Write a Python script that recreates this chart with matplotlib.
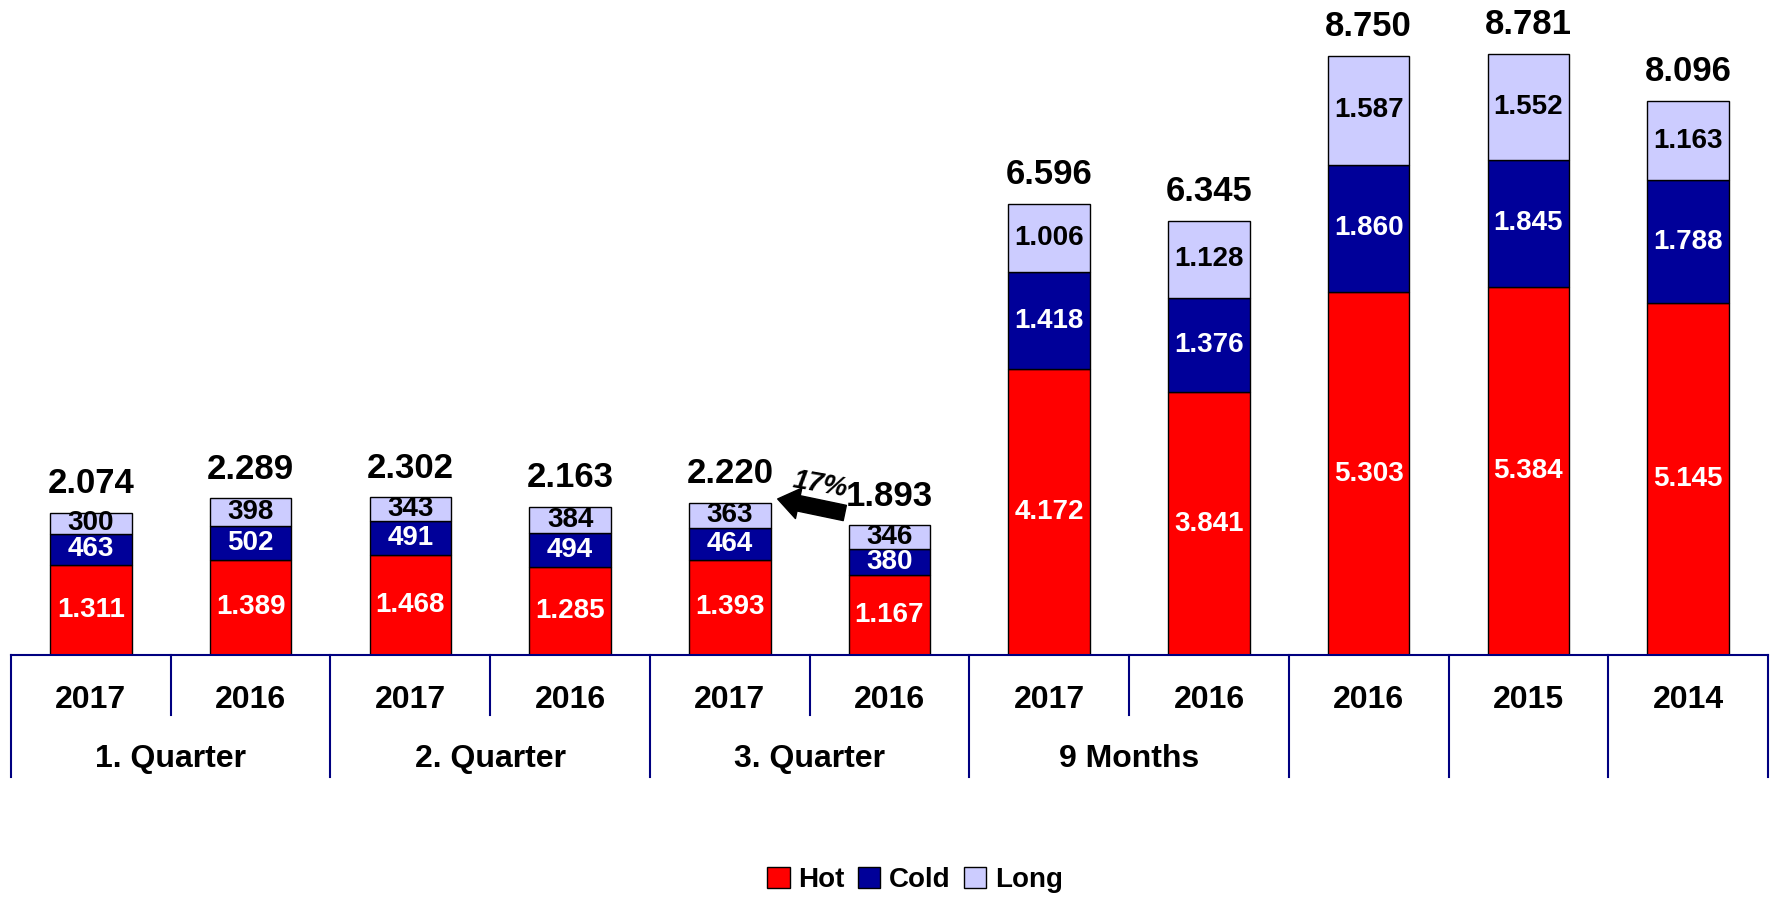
import matplotlib
matplotlib.use("Agg")
import matplotlib.pyplot as plt
from matplotlib.patches import Patch, FancyArrowPatch

plt.rcParams['font.family'] = ['Liberation Sans', 'DejaVu Sans']
plt.rcParams['font.weight'] = 'bold'

years = ['2017', '2016', '2017', '2016', '2017', '2016', '2017', '2016', '2016', '2015', '2014']
groups = ['1. Quarter', '2. Quarter', '3. Quarter', '9 Months']
hot = [1311, 1389, 1468, 1285, 1393, 1167, 4172, 3841, 5303, 5384, 5145]
cold = [463, 502, 491, 494, 464, 380, 1418, 1376, 1860, 1845, 1788]
long_ = [300, 398, 343, 384, 363, 346, 1006, 1128, 1587, 1552, 1163]

c_hot, c_cold, c_long = '#ff0000', '#000099', '#ccccff'
navy = '#000080'


def fmt(v):
    # german thousands separator
    return f'{v:,}'.replace(',', '.')


fig = plt.figure(figsize=(17.7, 8.97), dpi=100)
ax = fig.add_axes([11 / 1770, 1 - 655 / 897, 1757 / 1770, 655 / 897])

x = [i + 0.5 for i in range(len(years))]
bottom2 = [h + c for h, c in zip(hot, cold)]
totals = [h + c + l for h, c, l in zip(hot, cold, long_)]
w = 0.51

ax.bar(x, hot, w, color=c_hot, edgecolor='black', linewidth=1)
ax.bar(x, cold, w, bottom=hot, color=c_cold, edgecolor='black', linewidth=1)
ax.bar(x, long_, w, bottom=bottom2, color=c_long, edgecolor='black', linewidth=1)

for i in range(len(x)):
    ax.text(x[i], hot[i] / 2, fmt(hot[i]), ha='center', va='center', color='white', fontsize=20)
    ax.text(x[i], hot[i] + cold[i] / 2, fmt(cold[i]), ha='center', va='center', color='white', fontsize=20)
    ax.text(x[i], bottom2[i] + long_[i] / 2, fmt(long_[i]), ha='center', va='center', color='black', fontsize=20)
    ax.annotate(fmt(totals[i]), (x[i], totals[i]), xytext=(0, 21), textcoords='offset points',
                ha='center', va='center', fontsize=25)

ax.set_xlim(0, len(years))
ax.set_ylim(0, 9570)
ax.axis('off')

# category axis drawn by hand
tr = ax.get_xaxis_transform()
ax.plot([0, len(years)], [0, 0], color=navy, lw=1.5, transform=tr, clip_on=False)
for b in range(len(years) + 1):
    low = -0.0916 if b in (1, 3, 5, 7) else -0.186
    ax.plot([b, b], [0, low], color=navy, lw=1.5, transform=tr, clip_on=False)
for i, yr in enumerate(years):
    ax.text(x[i], -0.069, yr, transform=tr, ha='center', va='center', fontsize=23)
for g, name in enumerate(groups):
    ax.text(2 * g + 1, -0.159, name, transform=tr, ha='center', va='center', fontsize=23)

# growth arrow
arr = FancyArrowPatch((5.22, 2075), (4.80, 2280),
                      arrowstyle='simple,head_length=1.1,head_width=1.6,tail_width=0.8',
                      mutation_scale=14, color='black', shrinkA=0, shrinkB=0)
ax.add_patch(arr)
ax.text(5.066, 2484, '17%', ha='center', va='center', fontsize=20, style='italic', rotation=-10)

handles = [Patch(facecolor=c, edgecolor='black', linewidth=1) for c in (c_hot, c_cold, c_long)]
fig.legend(handles, ['Hot', 'Cold', 'Long'], loc='center', bbox_to_anchor=(915 / 1770, 1 - 880 / 897),
           ncol=3, frameon=False, fontsize=20, handlelength=0.8, handleheight=0.8,
           handletextpad=0.3, columnspacing=0.5)

fig.savefig('out.png', dpi=100)
